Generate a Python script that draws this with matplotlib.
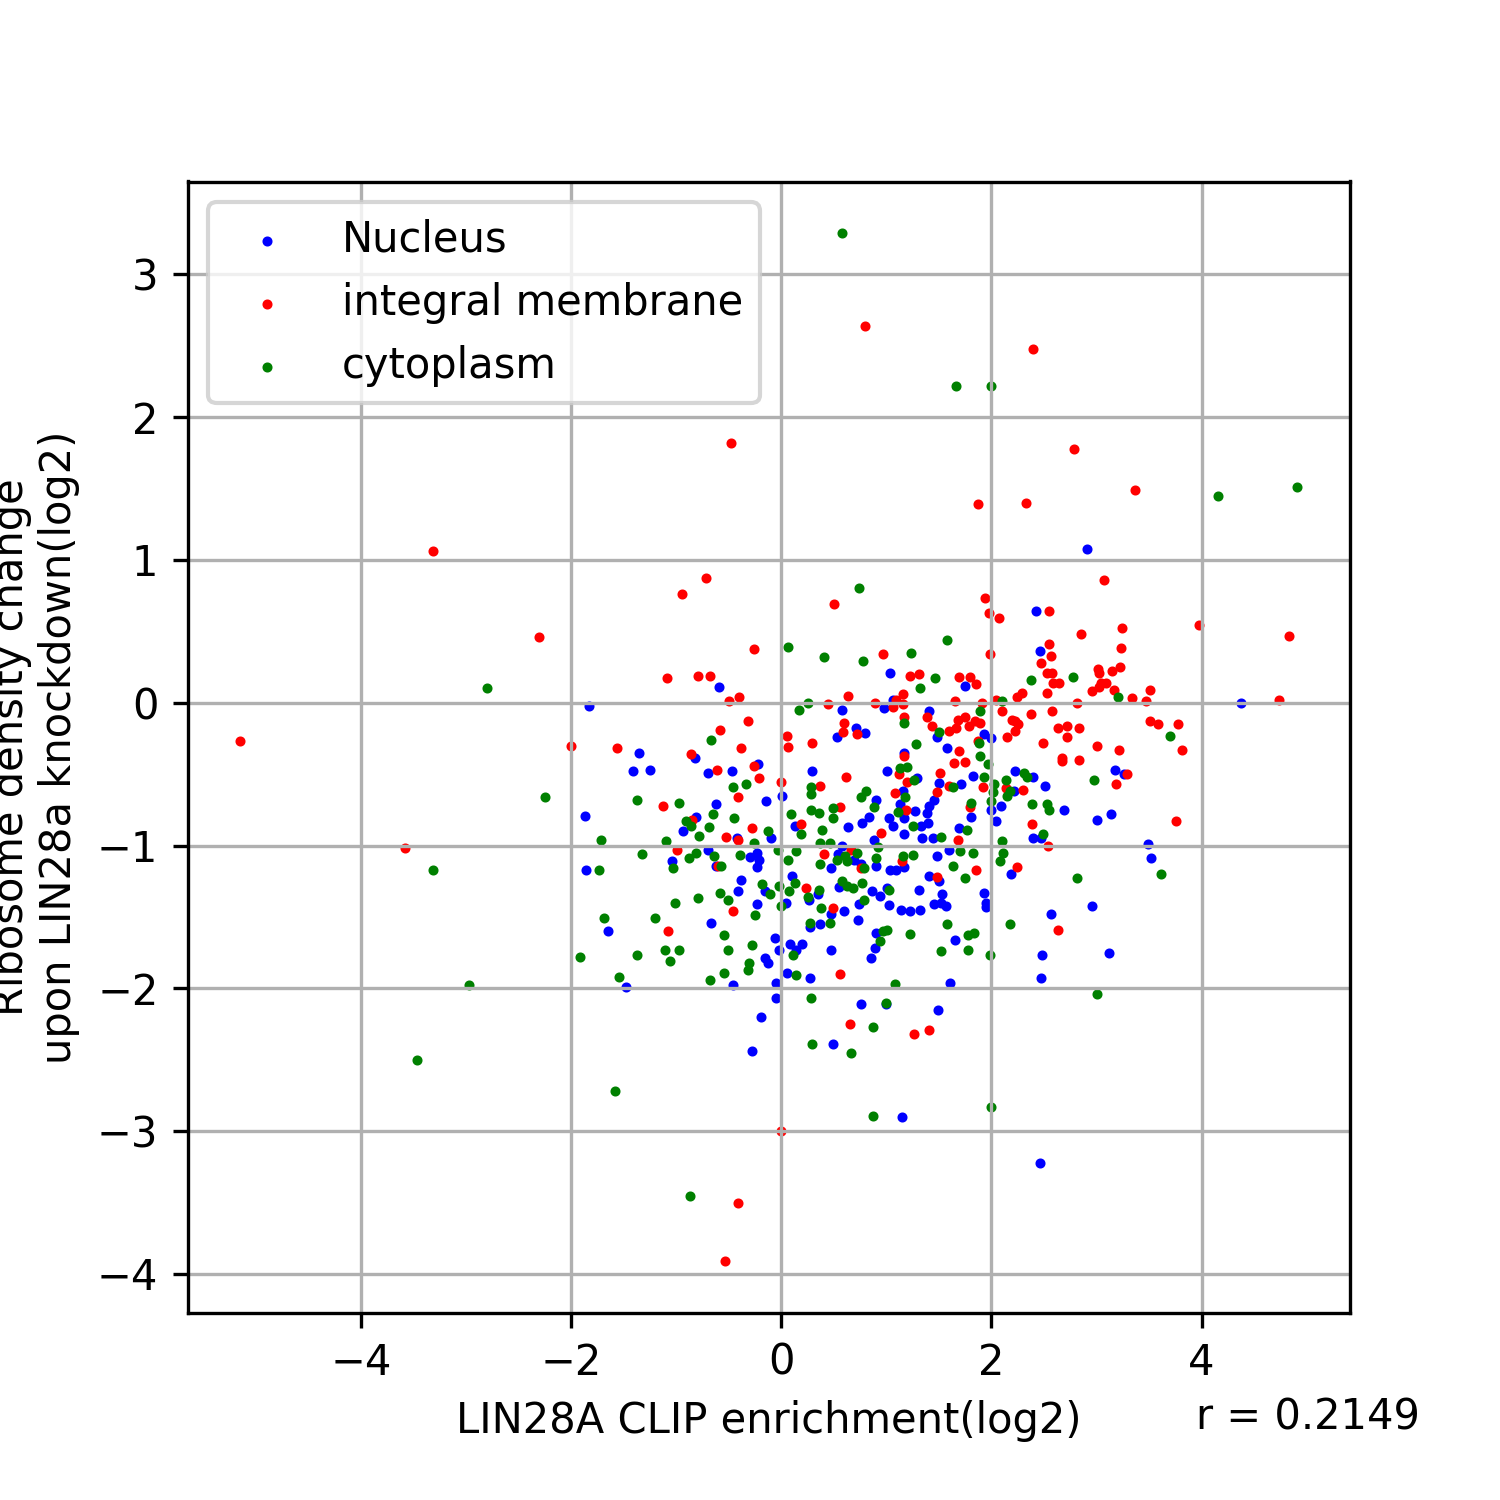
import numpy as np
import matplotlib
matplotlib.use("Agg")
import matplotlib.pyplot as plt

# values (log2 units)
nucleus_x = [2.91, 2.42,
             -0.59, -1.83, -1.355, -0.825, -1.41, -1.25, -0.70, -0.47, -0.22, 0.29,
             0.01, -0.62, -0.15, -1.87, -0.81, 0.13, -0.94, -0.42, -0.095, -0.70,
             -0.23, -0.21, -0.30, -1.04, -0.23, -0.62, -1.86,
             2.46, 1.035, 1.75, 1.06, 0.98, 0.58, 1.41, 0.71, 0.80, 0.53,
             1.48, 1.93, 2.00, 1.58, 1.17, 1.01, 1.29, 1.82, 1.50, 1.71,
             2.22, 2.40, 2.505, 2.21, 0.90, 1.16, 1.45, 1.13, 1.27, 1.41,
             1.39, 1.81, 2.00, 2.09, 2.04, 2.695, 0.83, 0.77, 1.02, 1.06,
             1.165, 1.33, 1.40, 0.63, 1.165, 1.69, 2.40, 2.47, 0.88, 1.34,
             1.44, 0.58, 1.60, 1.48, 0.54, 0.695, 0.47, 0.76, 0.905, 1.03,
             1.09, 1.17,
             4.38, 3.18, 3.26, 3.14, 3.00, 3.49, 3.52,
             -0.38, 0.10, -0.16, 0.26, 0.04, -0.41, -0.23, -0.67, -1.65, 0.27,
             -0.06, -0.02, 0.08, 0.20, 0.14, -0.16, -0.13, -1.48, -0.46, 0.05,
             -0.05, 0.27, -0.05, -0.19, -0.275,
             1.41, 1.505, 2.19, 0.55, 0.86, 1.006, 0.94, 0.74, 1.02, 1.31,
             1.53, 1.45, 1.52, 1.57, 1.14, 1.22, 1.32, 1.93, 1.95, 1.95,
             0.35, 0.47, 0.60, 0.37, 0.73, 0.905, 0.895, 0.85, 1.65, 0.47,
             1.61, 2.57, 2.48, 2.47, 0.76, 1.00, 1.49, 0.49, 1.15,
             2.96, 3.12, 2.46]
nucleus_y = [1.08, 0.64,
             0.11, -0.02, -0.35, -0.39, -0.48, -0.47, -0.49, -0.48, -0.43, -0.48,
             -0.655, -0.71, -0.69, -0.79, -0.80, -0.86, -0.90, -0.95, -0.95, -1.03,
             -1.05, -1.10, -1.08, -1.11, -1.15, -1.14, -1.17,
             0.36, 0.21, 0.12, 0.02, -0.04, -0.05, -0.06, -0.175, -0.21, -0.24,
             -0.24, -0.22, -0.25, -0.32, -0.35, -0.48, -0.53, -0.51, -0.56, -0.57,
             -0.48, -0.52, -0.58, -0.615, -0.68, -0.615, -0.68, -0.71, -0.76, -0.72,
             -0.77, -0.80, -0.75, -0.72, -0.83, -0.75, -0.80, -0.84, -0.81, -0.86,
             -0.81, -0.86, -0.84, -0.87, -0.92, -0.88, -0.95, -0.95, -0.96, -0.95,
             -0.95, -1.00, -1.03, -1.07, -1.06, -1.10, -1.16, -1.13, -1.14, -1.17,
             -1.17, -1.15,
             0.00, -0.47, -0.50, -0.78, -0.82, -0.99, -1.09,
             -1.24, -1.21, -1.32, -1.38, -1.40, -1.32, -1.41, -1.54, -1.60, -1.57,
             -1.65, -1.73, -1.69, -1.69, -1.73, -1.785, -1.82, -1.99, -1.98, -1.89,
             -1.96, -1.925, -2.07, -2.20, -2.44,
             -1.21, -1.25, -1.20, -1.29, -1.315, -1.30, -1.35, -1.41, -1.415, -1.31,
             -1.34, -1.41, -1.40, -1.42, -1.45, -1.455, -1.45, -1.33, -1.40, -1.43,
             -1.34, -1.48, -1.46, -1.55, -1.52, -1.61, -1.72, -1.79, -1.66, -1.73,
             -1.96, -1.48, -1.77, -1.925, -2.11, -2.11, -2.15, -2.39, -2.90,
             -1.42, -1.75, -3.22]

membrane_x = [-0.48, -3.32, -0.72, -0.95, -2.31,
              0.80, 2.40, 2.79, 3.37, 1.87, 2.33, 3.07, 0.50, 1.94, 1.98, 2.07, 2.55,
              -5.15, -3.58,
              -0.265, -1.09, -0.79, -0.68, -0.40, -0.50, -0.32, -0.58, 0.05, -2.0,
              -1.56, 0.06, -0.38, 0.29, -0.86, -0.61, -0.265, -0.21, 0.0, -0.41,
              -1.13, -0.85, 0.19, -0.28, -0.53, -0.41, -0.99, -0.60,
              2.55, 2.565, 1.99, 0.965, 2.47, 1.225, 1.31, 1.69, 1.80, 1.85,
              2.53, 2.58, 2.59, 2.645, 2.53, 2.29, 2.24, 0.63, 0.44, 0.89,
              1.09, 1.155, 1.155, 1.06, 1.65, 1.91, 2.04, 2.10, 2.38, 2.58,
              1.39, 1.165, 0.60, 0.59, 0.72, 1.43, 1.60, 1.68, 1.75, 1.66,
              1.79, 1.84, 1.895, 2.15, 2.22, 2.25, 2.20, 2.225, 2.63, 2.72,
              2.72, 2.49, 1.87, 1.69, 1.165, 1.64, 1.75, 2.67, 2.67, 1.12,
              0.62, 1.20, 1.51, 1.60, 2.14, 2.30, 1.92, 0.37, 1.08, 1.48,
              1.19, 1.80, 0.56, 2.39, 0.95, 2.54, 1.68, 0.41, 0.66, 0.76,
              1.15, 1.85, 2.24,
              3.98, 4.83, 2.85, 3.24, 3.23, 3.01, 3.02, 3.22, 3.15, 3.045,
              3.09, 3.02, 2.96, 3.165, 3.505, 3.34, 3.47, 2.81, 4.74, 3.505,
              3.59, 3.775, 2.83, 3.00, 3.21, 3.81, 2.83, 3.29, 3.19, 3.76,
              0.23, -0.46, -1.08, 1.48, 0.49, 0.56, 2.63, 0.65, 1.26, 1.41,
              0.0, -0.415, -0.54]
membrane_y = [1.82, 1.06, 0.87, 0.76, 0.46,
              2.64, 2.48, 1.78, 1.49, 1.39, 1.40, 0.86, 0.69, 0.73, 0.63, 0.59, 0.64,
              -0.27, -1.02,
              0.375, 0.175, 0.19, 0.19, 0.04, 0.01, -0.13, -0.19, -0.23, -0.30,
              -0.32, -0.31, -0.315, -0.28, -0.36, -0.47, -0.44, -0.53, -0.555, -0.66,
              -0.72, -0.82, -0.85, -0.88, -0.94, -0.96, -1.03, -1.14,
              0.41, 0.33, 0.34, 0.34, 0.28, 0.19, 0.20, 0.18, 0.18, 0.13,
              0.21, 0.21, 0.135, 0.14, 0.07, 0.07, 0.04, 0.05, -0.01, 0.0,
              0.02, 0.06, -0.01, -0.03, 0.01, 0.0, 0.02, -0.06, -0.08, -0.06,
              -0.10, -0.10, -0.14, -0.205, -0.22, -0.16, -0.20, -0.12, -0.10, -0.18,
              -0.16, -0.13, -0.14, -0.24, -0.13, -0.15, -0.12, -0.20, -0.175, -0.16,
              -0.24, -0.28, -0.27, -0.34, -0.37, -0.42, -0.415, -0.385, -0.41, -0.50,
              -0.52, -0.555, -0.49, -0.58, -0.60, -0.61, -0.59, -0.58, -0.63, -0.625,
              -0.75, -0.73, -0.73, -0.85, -0.91, -1.00, -0.96, -1.06, -1.03, -1.16,
              -1.105, -1.17, -1.15,
              0.545, 0.47, 0.48, 0.52, 0.38, 0.235, 0.21, 0.25, 0.22, 0.14,
              0.14, 0.11, 0.08, 0.09, 0.09, 0.03, 0.01, 0.0, 0.02, -0.13,
              -0.15, -0.15, -0.18, -0.30, -0.33, -0.33, -0.40, -0.50, -0.57, -0.825,
              -1.30, -1.46, -1.60, -1.22, -1.44, -1.90, -1.59, -2.25, -2.32, -2.29,
              -3.0, -3.50, -3.91]

cytoplasm_x = [-2.80, 0.58, 1.66, 2.00, 4.91, 4.16, 0.74, -2.25, -3.32, -2.97, -3.47,
               0.06, 0.25, 0.17, -0.67, -0.46, -0.34, 0.28, 0.28, -1.37, -0.97,
               0.28, 0.095, -0.65, -0.91, -0.86, -0.45, -0.69, -0.13, 0.19, -0.78,
               -1.72, -1.10, -0.265, -0.03, 0.14, -1.33, -0.81, -0.875, -0.64, -0.39,
               0.06, -0.57, -1.735, -1.03,
               1.58, 0.41, 1.23, 0.78, 1.46, 2.38, 1.32, 2.10, 1.89, 1.165,
               1.50, 1.28, 1.88, 1.89, 1.965, 1.13, 1.20, 1.26, 1.93, 1.635,
               2.02, 2.31, 2.34, 2.14, 2.18, 2.15, 2.01, 2.00, 0.76, 0.81,
               1.18, 1.11, 1.81, 2.39, 2.53, 2.55, 0.49, 0.36, 0.49, 0.88,
               1.25, 0.39, 1.765, 2.49, 1.52, 2.10, 0.37, 0.46, 0.92, 2.11,
               1.705, 1.825, 2.08, 1.25, 1.16, 0.905, 0.72, 0.61, 0.625, 0.53,
               0.37, 0.79, 1.63,
               2.78, 3.20, 3.695, 2.98,
               -0.18, 0.13, -0.02, -0.11, 0.07, 0.25, 0.0, -0.58, -0.51, -0.79,
               -1.01, -0.25, -1.69, -1.20, -0.55, 0.27, 0.11, -0.275, -0.51, -0.31,
               -0.32, -1.915, -1.37, -1.11, -0.97, -1.06, -0.55, -0.68, -1.545, 0.14,
               0.28, 0.29, -1.58,
               1.75, 0.36, 0.575, 0.625, 0.68, 0.765, 1.02, 0.79, 0.38, 0.46,
               0.965, 1.006, 0.94, 1.22, 1.58, 1.78, 1.835, 1.52, 1.78, 1.99,
               1.08, 2.18, 1.00, 0.87, 0.66, 2.00, 0.875,
               2.81, 3.61, 3.00, -0.87]
cytoplasm_y = [0.10, 3.29, 2.22, 2.22, 1.51, 1.45, 0.80, -0.66, -1.17, -1.98, -2.50,
               0.39, 0.0, -0.05, -0.26, -0.59, -0.57, -0.59, -0.64, -0.68, -0.70,
               -0.75, -0.78, -0.78, -0.825, -0.86, -0.81, -0.87, -0.90, -0.92, -0.93,
               -0.96, -0.965, -0.98, -1.03, -1.035, -1.06, -1.05, -1.09, -1.07, -1.065,
               -1.10, -1.14, -1.17, -1.16,
               0.44, 0.32, 0.35, 0.29, 0.17, 0.16, 0.10, 0.01, -0.06, -0.14,
               -0.205, -0.29, -0.28, -0.37, -0.43, -0.46, -0.45, -0.54, -0.52, -0.59,
               -0.57, -0.49, -0.52, -0.54, -0.615, -0.655, -0.625, -0.685, -0.66, -0.62,
               -0.66, -0.765, -0.70, -0.71, -0.71, -0.75, -0.74, -0.77, -0.81, -0.73,
               -0.865, -0.89, -0.89, -0.92, -0.94, -0.97, -0.98, -0.98, -1.01, -1.05,
               -1.04, -1.05, -1.105, -1.065, -1.07, -1.09, -1.05, -1.07, -1.105, -1.10,
               -1.13, -1.16, -1.14,
               0.18, 0.04, -0.23, -0.54,
               -1.27, -1.26, -1.28, -1.34, -1.32, -1.36, -1.42, -1.33, -1.38, -1.37,
               -1.40, -1.485, -1.51, -1.51, -1.63, -1.54, -1.77, -1.70, -1.73, -1.82,
               -1.87, -1.78, -1.77, -1.73, -1.73, -1.81, -1.89, -1.94, -1.92, -1.91,
               -2.07, -2.39, -2.72,
               -1.23, -1.31, -1.25, -1.28, -1.30, -1.26, -1.31, -1.38, -1.44, -1.54,
               -1.60, -1.59, -1.67, -1.62, -1.55, -1.625, -1.61, -1.74, -1.73, -1.77,
               -1.97, -1.55, -2.10, -2.27, -2.455, -2.83, -2.895,
               -1.23, -1.20, -2.04, -3.455]

r_value = 0.2149

fig = plt.figure(figsize=(5, 5), dpi=300)
ax = fig.add_axes([0.125, 0.125, 0.775, 0.754])

ax.scatter(nucleus_x, nucleus_y, s=2, c='blue', label='Nucleus')
ax.scatter(membrane_x, membrane_y, s=2, c='red', label='integral membrane')
ax.scatter(cytoplasm_x, cytoplasm_y, s=2, c='green', label='cytoplasm')

ax.grid(True)
ax.set_xticks([-4, -2, 0, 2, 4])
ax.set_xlabel('LIN28A CLIP enrichment(log2)')
ax.set_ylabel('Ribosome density change\nupon LIN28a knockdown(log2)')
ax.legend(loc='upper left')

fig.text(0.797, 0.047, 'r = %.4f' % r_value, fontsize=10)

plt.savefig('out.png', dpi=300)
